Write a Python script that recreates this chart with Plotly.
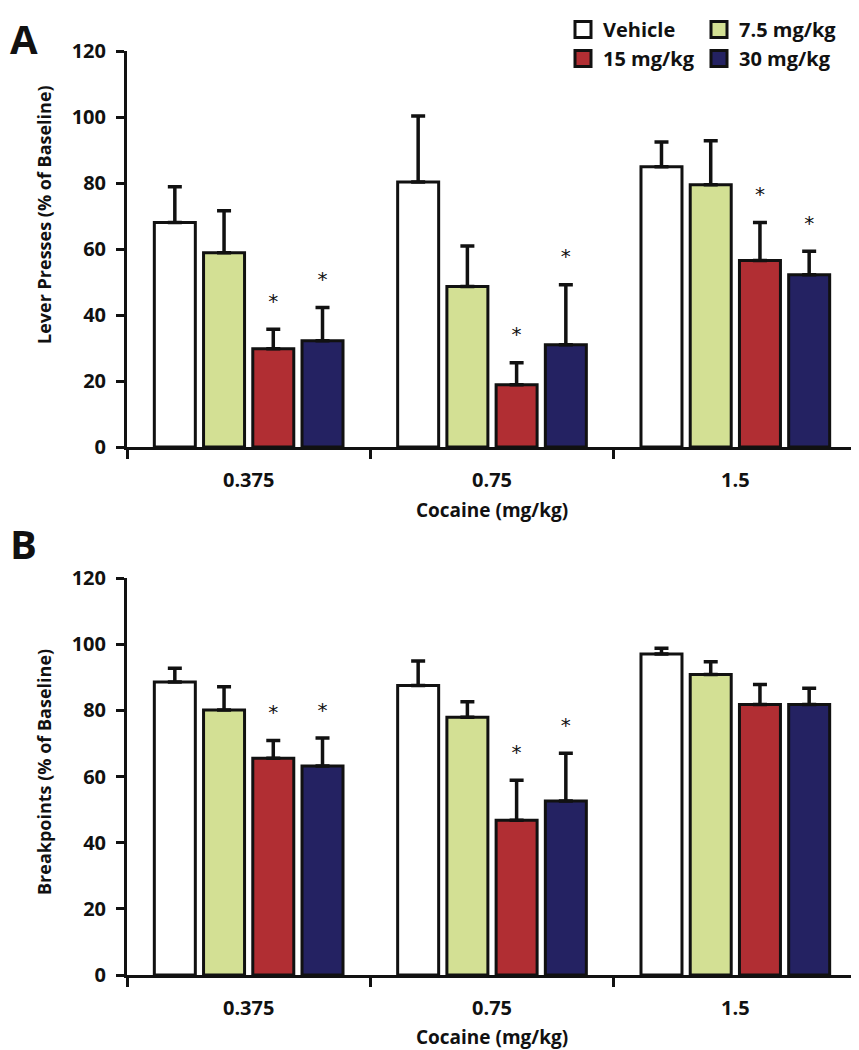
import plotly.graph_objects as go

# ---------------- data ----------------
categories = ["0.375", "0.75", "1.5"]
series_names = ["Vehicle", "7.5 mg/kg", "15 mg/kg", "30 mg/kg"]

# Panel A: Lever presses (% of baseline)
a_vehicle = [68.0, 80.3, 84.9]
a_vehicle_err = [10.9, 20.0, 7.5]
a_7_5 = [58.9, 48.6, 79.5]
a_7_5_err = [12.7, 12.3, 13.3]
a_15 = [29.8, 18.9, 56.5]
a_15_err = [5.9, 6.6, 11.5]
a_30 = [32.2, 31.0, 52.2]
a_30_err = [10.1, 18.2, 7.1]
a_sig = [[0, 0, 0], [0, 0, 0], [1, 1, 1], [1, 1, 1]]

# Panel B: Breakpoints (% of baseline)
b_vehicle = [88.6, 87.5, 97.0]
b_vehicle_err = [4.1, 7.4, 1.8]
b_7_5 = [80.1, 77.9, 90.8]
b_7_5_err = [7.0, 4.7, 3.9]
b_15 = [65.5, 46.8, 81.8]
b_15_err = [5.4, 12.1, 6.0]
b_30 = [63.2, 52.6, 81.8]
b_30_err = [8.4, 14.4, 4.9]
b_sig = [[0, 0, 0], [0, 0, 0], [1, 1, 0], [1, 1, 0]]

y_ticks = [0, 20, 40, 60, 80, 100, 120]

# ---------------- style ----------------
colors = ["#FFFFFF", "#D3E094", "#B12E33", "#242262"]
FONT = "Open Sans"
BLACK = "#111111"
SLOT = 0.2023      # width of one bar slot (category units)
BAR_W = 0.1685     # bar width (category units)
STAR_OFF = 8.0     # asterisk offset above error cap (data units)

# the page body has an 8px margin, so the figure is drawn 8px in from the edges
OFF = 8
W, H = 859 - OFF, 1050 - OFF
ML, MR, MT, MB = 127 - OFF, 2, 51 - OFF, 75
PH = H - MT - MB
PW = W - ML - MR


def py(p):
    """screen pixel row -> paper y"""
    return (H - MB - (p - OFF)) / PH


def px(p):
    """screen pixel column -> paper x"""
    return ((p - OFF) - ML) / PW


fig = go.Figure()

panels = [
    ("x", "y", [a_vehicle, a_7_5, a_15, a_30],
     [a_vehicle_err, a_7_5_err, a_15_err, a_30_err], a_sig),
    ("x2", "y2", [b_vehicle, b_7_5, b_15, b_30],
     [b_vehicle_err, b_7_5_err, b_15_err, b_30_err], b_sig),
]

for xa, ya, vals, errs, sigs in panels:
    for j, (name, v, e, s) in enumerate(zip(series_names, vals, errs, sigs)):
        xs = [i + (j - 1.5) * SLOT for i in range(len(categories))]
        fig.add_trace(go.Bar(
            x=xs, y=v, width=BAR_W, name=name, showlegend=False,
            marker=dict(color=colors[j], line=dict(color=BLACK, width=3)),
            error_y=dict(type="data", array=e, arrayminus=[0] * len(e),
                         symmetric=False, thickness=3.5, width=7, color=BLACK),
            xaxis=xa, yaxis=ya,
        ))
        sx = [x for x, f in zip(xs, s) if f]
        sy = [vv + ee + STAR_OFF for vv, ee, f in zip(v, e, s) if f]
        if sx:
            fig.add_trace(go.Scatter(
                x=sx, y=sy, mode="text", text=["*"] * len(sx),
                textposition="middle center",
                textfont=dict(family="DejaVu Sans", size=20, color=BLACK),
                showlegend=False, hoverinfo="skip", xaxis=xa, yaxis=ya,
            ))

# legend entries (two columns)
legend_ids = ["legend", "legend2", "legend", "legend2"]
for j, name in enumerate(series_names):
    fig.add_trace(go.Scatter(
        x=[None], y=[None], mode="markers", name=name,
        marker=dict(symbol="square", size=16, color=colors[j],
                    line=dict(color=BLACK, width=3)),
        legend=legend_ids[j], showlegend=True,
    ))

axis_font = dict(family=FONT, size=20, color=BLACK, weight="bold")
title_font = dict(family=FONT, size=19, color=BLACK, weight="bold")
ytitle_font = dict(family=FONT, size=18, color=BLACK, weight="bold")
letter_font = dict(family=FONT, size=40, color=BLACK, weight="bold")

xcommon = dict(
    range=[-0.5, 2.5], tickmode="array", tickvals=list(range(len(categories))),
    ticktext=categories, ticks="", showline=True, linecolor=BLACK, linewidth=3,
    showgrid=False, zeroline=False, tickfont=axis_font, ticklabelstandoff=13,
    minor=dict(tickmode="array", tickvals=[-0.5, 0.5, 1.5, 2.5], ticks="outside",
               ticklen=9, tickwidth=3, tickcolor=BLACK, showgrid=False),
    title=dict(text="Cocaine (mg/kg)", font=title_font, standoff=12),
    fixedrange=True, automargin=False,
)
ycommon = dict(
    range=[0, 120], tickmode="array", tickvals=y_ticks, ticks="outside",
    ticklen=8, tickwidth=3, tickcolor=BLACK, showline=True, linecolor=BLACK,
    linewidth=3, showgrid=False, zeroline=False, tickfont=axis_font,
    ticklabelstandoff=6, fixedrange=True, automargin=False,
)

legend_font = dict(family=FONT, size=20, color=BLACK, weight="bold")

fig.update_layout(
    width=W, height=H,
    margin=dict(l=ML, r=MR, t=MT, b=MB, autoexpand=False),
    paper_bgcolor="white", plot_bgcolor="white",
    barmode="overlay",
    xaxis=dict(domain=[0, 1], anchor="y", **xcommon),
    yaxis=dict(domain=[py(447), 1], anchor="x", **ycommon),
    xaxis2=dict(domain=[0, 1], anchor="y2", **xcommon),
    yaxis2=dict(domain=[0, py(578)], anchor="x2", **ycommon),
    legend=dict(x=px(563), y=py(10), xanchor="left", yanchor="top",
                orientation="v", itemsizing="trace", traceorder="normal",
                font=legend_font, bgcolor="rgba(0,0,0,0)", tracegroupgap=0),
    legend2=dict(x=px(699), y=py(10), xanchor="left", yanchor="top",
                 orientation="v", itemsizing="trace", traceorder="normal",
                 font=legend_font, bgcolor="rgba(0,0,0,0)", tracegroupgap=0),
    showlegend=True,
    annotations=[
        dict(text="A", xref="paper", yref="paper", x=px(8), y=py(9),
             xanchor="left", yanchor="top", showarrow=False, font=letter_font),
        dict(text="B", xref="paper", yref="paper", x=px(8), y=py(543),
             xanchor="left", yanchor="middle", showarrow=False,
             font=letter_font),
        dict(text="Lever Presses (% of Baseline)", xref="paper", yref="paper",
             x=px(44), y=py(215), xanchor="center", yanchor="middle",
             textangle=-90, showarrow=False, font=ytitle_font),
        dict(text="Breakpoints (% of Baseline)", xref="paper", yref="paper",
             x=px(44), y=py(772), xanchor="center", yanchor="middle",
             textangle=-90, showarrow=False, font=ytitle_font),
    ],
)

fig.write_html("out.html")
